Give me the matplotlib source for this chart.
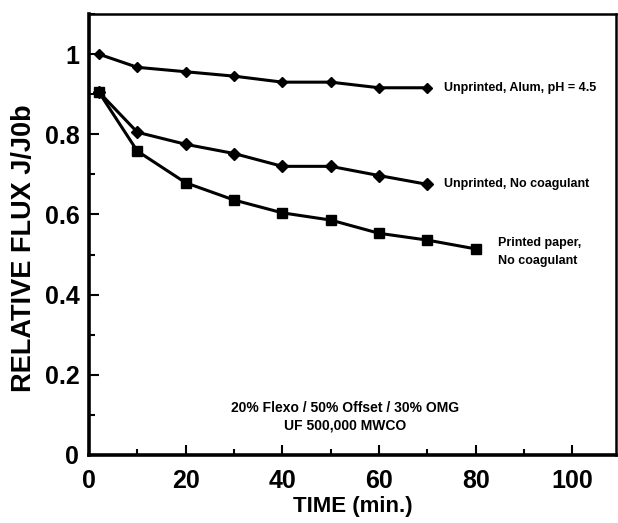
import matplotlib
matplotlib.use("Agg")
import matplotlib.pyplot as plt
from matplotlib.ticker import MultipleLocator

plt.rcParams['font.family'] = ['Liberation Sans', 'DejaVu Sans']
plt.rcParams['font.weight'] = 'bold'

time_alum = [2, 10, 20, 30, 40, 50, 60, 70]
flux_alum = [1.0, 0.967, 0.956, 0.945, 0.93, 0.93, 0.916, 0.916]

time_nocoag = [2, 10, 20, 30, 40, 50, 60, 70]
flux_nocoag = [0.906, 0.805, 0.775, 0.752, 0.72, 0.72, 0.697, 0.675]

time_printed = [2, 10, 20, 30, 40, 50, 60, 70, 80]
flux_printed = [0.906, 0.758, 0.679, 0.636, 0.604, 0.586, 0.553, 0.536, 0.514]

label_alum = "Unprinted, Alum, pH = 4.5"
label_nocoag = "Unprinted, No coagulant"
label_printed = "Printed paper,\nNo coagulant"
note_text = "20% Flexo / 50% Offset / 30% OMG\nUF 500,000 MWCO"

fig = plt.figure(figsize=(6.18, 5.23), dpi=100)
ax = fig.add_axes([89/618, 1 - 455/523, (616-89)/618, (455-14)/523])

ax.plot(time_alum, flux_alum, color='black', lw=2.2, marker='D', ms=5)
ax.plot(time_nocoag, flux_nocoag, color='black', lw=2.2, marker='D', ms=6.5)
ax.plot(time_printed, flux_printed, color='black', lw=2.2, marker='s', ms=7.5)

ax.text(time_alum[-1] + 3.5, flux_alum[-1], label_alum, fontsize=9, fontweight='bold', va='center')
ax.text(time_nocoag[-1] + 3.5, flux_nocoag[-1], label_nocoag, fontsize=9, fontweight='bold', va='center')
ax.text(time_printed[-1] + 4.5, flux_printed[-1] - 0.008, label_printed, fontsize=9, fontweight='bold', va='center', linespacing=1.6)
ax.text(53, 0.095, note_text, fontsize=10, fontweight='bold', ha='center', va='center', linespacing=1.3)

ax.set_xlim(0, 109)
ax.set_ylim(0, 1.1)
ax.xaxis.set_major_locator(MultipleLocator(20))
ax.xaxis.set_minor_locator(MultipleLocator(10))
ax.yaxis.set_minor_locator(MultipleLocator(0.1))
ax.set_yticks([0, 0.2, 0.4, 0.6, 0.8, 1.0])
ax.set_yticklabels(['0', '0.2', '0.4', '0.6', '0.8', '1'])
ax.tick_params(which='both', direction='in', width=1.5, top=False, right=False)
ax.tick_params(which='major', length=7, labelsize=18, pad=7)
ax.tick_params(axis='x', which='major', pad=10)
ax.tick_params(which='minor', length=4)
for lbl in ax.get_xticklabels() + ax.get_yticklabels():
    lbl.set_fontweight('bold')
ax.spines['left'].set_linewidth(2.6)
ax.spines['bottom'].set_linewidth(2.6)
ax.spines['top'].set_linewidth(1.8)
ax.spines['right'].set_linewidth(1.8)

ax.set_xlabel("TIME (min.)", fontsize=16, fontweight='bold', labelpad=2)
ax.set_ylabel("RELATIVE FLUX J/J0b", fontsize=19.5, fontweight='bold')
ax.yaxis.set_label_coords(-0.098, 0.47)

fig.savefig("out.png", dpi=100)
